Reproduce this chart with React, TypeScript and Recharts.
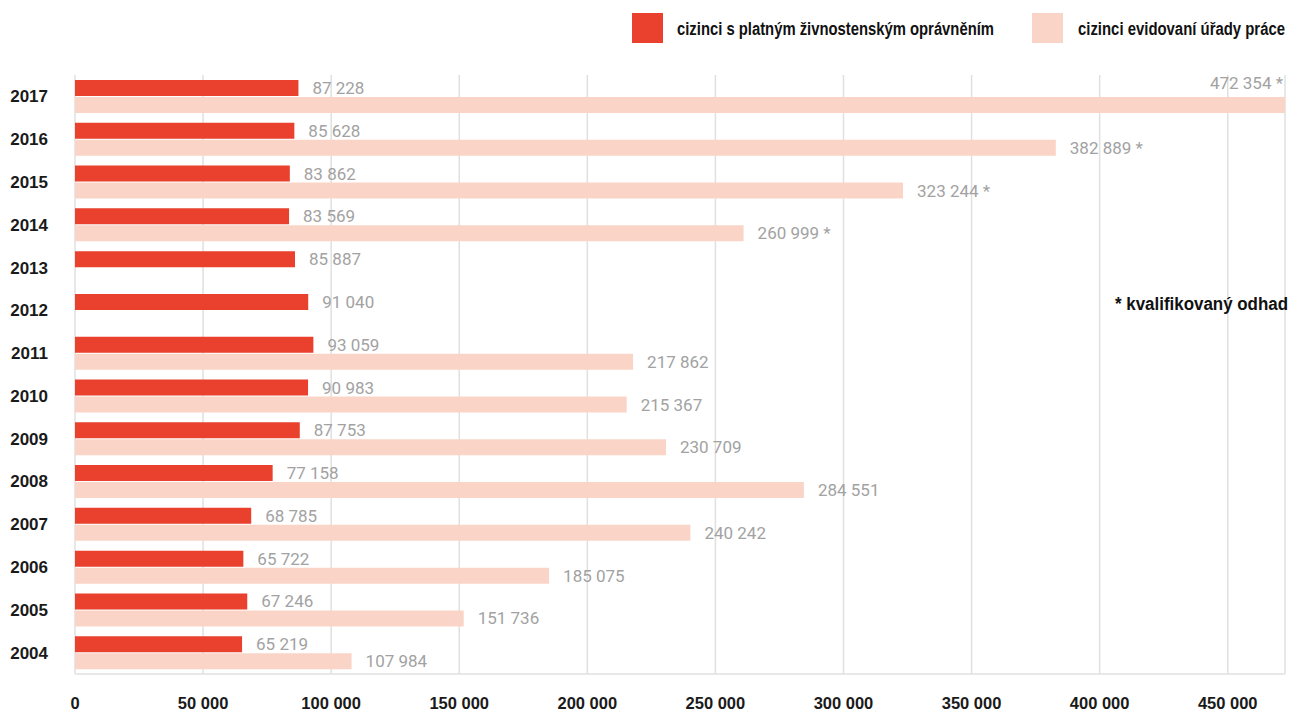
import React from "react";
import { BarChart, Bar, XAxis, YAxis, CartesianGrid, LabelList } from "recharts";

const years = ["2017", "2016", "2015", "2014", "2013", "2012", "2011", "2010", "2009", "2008", "2007", "2006", "2005", "2004"];
const tradeLicence = [87228, 85628, 83862, 83569, 85887, 91040, 93059, 90983, 87753, 77158, 68785, 65722, 67246, 65219];
const labourOffice = [472354, 382889, 323244, 260999, null, null, 217862, 215367, 230709, 284551, 240242, 185075, 151736, 107984];
const estimated = [true, true, true, true, false, false, false, false, false, false, false, false, false, false];
const xTicks = [0, 50000, 100000, 150000, 200000, 250000, 300000, 350000, 400000, 450000];

const RED = "#e9412e";
const PINK = "#fad5c7";
const LABEL_GRAY = "#a2a2a2";

const data = years.map((year, i) => ({
  year,
  red: tradeLicence[i],
  pink: labourOffice[i],
  est: estimated[i],
}));

const fmt = (n: number) => String(n).replace(/\B(?=(\d{3})+(?!\d))/g, " ");
const maxPink = Math.max(...(labourOffice.filter((v) => v != null) as number[]));

const valueFont = { fontFamily: "Roboto, sans-serif", fontSize: 17, fill: LABEL_GRAY };

const redLabel = (props: any) => {
  const { x, y, width, height, value } = props;
  if (value == null) return null;
  return (
    <text x={x + width + 14} y={y + height / 2} dominantBaseline="central" {...valueFont}>
      {fmt(value)}
    </text>
  );
};

const pinkLabel = (props: any) => {
  const { x, y, width, height, value, index } = props;
  if (value == null) return null;
  const text = fmt(value) + (data[index].est ? " *" : "");
  if (value === maxPink) {
    return (
      <text x={x + width - 2} y={y + height / 2 - 22} dominantBaseline="central" textAnchor="end" {...valueFont}>
        {text}
      </text>
    );
  }
  return (
    <text x={x + width + 14} y={y + height / 2} dominantBaseline="central" {...valueFont}>
      {text}
    </text>
  );
};

// condensed look: a smaller bold sans stretched vertically, then fitted to the widths in the picture
const NarrowText = ({ x, y, w, children }: { x: number; y: number; w: number; children: string }) => (
  <g transform={`translate(${x},${y}) scale(1,1.27)`}>
    <text
      x={0}
      y={0}
      textLength={w}
      lengthAdjust="spacingAndGlyphs"
      dominantBaseline="central"
      fontFamily="'Liberation Sans', Arial, sans-serif"
      fontWeight={700}
      fontSize={15}
      fill="#111"
    >
      {children}
    </text>
  </g>
);

export default function App() {
  return (
    <div style={{ position: "fixed", left: 0, top: 0, width: 1293, height: 713, background: "#fff" }}>
      <BarChart
        width={1293}
        height={713}
        data={data}
        layout="vertical"
        margin={{ top: 75, right: 8, bottom: 0, left: 0 }}
        barSize={16}
        barGap={1}
      >
        <CartesianGrid horizontal={false} stroke="#e0e0e0" strokeWidth={1.5} />
        <XAxis
          type="number"
          domain={[0, maxPink]}
          ticks={xTicks}
          tickFormatter={fmt}
          height={39}
          axisLine={{ stroke: "#e0e0e0", strokeWidth: 1.5 }}
          tickLine={false}
          tickSize={0}
          tickMargin={23}
          interval={0}
          tick={{ fontFamily: "'Liberation Sans', Arial, sans-serif", fontWeight: 700, fontSize: 16.5, fill: "#1a1a1a" }}
        />
        <YAxis
          type="category"
          dataKey="year"
          width={75}
          axisLine={false}
          tickLine={false}
          tickSize={0}
          tickMargin={27}
          interval={0}
          tick={{ fontFamily: "'Liberation Sans', Arial, sans-serif", fontWeight: 700, fontSize: 17, fill: "#1a1a1a" }}
        />
        <Bar dataKey="red" fill={RED} isAnimationActive={false}>
          <LabelList dataKey="red" content={redLabel} />
        </Bar>
        <Bar dataKey="pink" fill={PINK} isAnimationActive={false}>
          <LabelList dataKey="pink" content={pinkLabel} />
        </Bar>
      </BarChart>

      <svg width={1293} height={713} style={{ position: "absolute", left: 0, top: 0, pointerEvents: "none" }}>
        <rect x={632} y={13} width={31} height={30} fill={RED} />
        <NarrowText x={677} y={28} w={317}>cizinci s platným živnostenským oprávněním</NarrowText>
        <rect x={1032} y={13} width={31} height={30} fill={PINK} />
        <NarrowText x={1078} y={28} w={207}>cizinci evidovaní úřady práce</NarrowText>
        <NarrowText x={1115} y={303} w={173}>* kvalifikovaný odhad</NarrowText>
      </svg>
    </div>
  );
}
